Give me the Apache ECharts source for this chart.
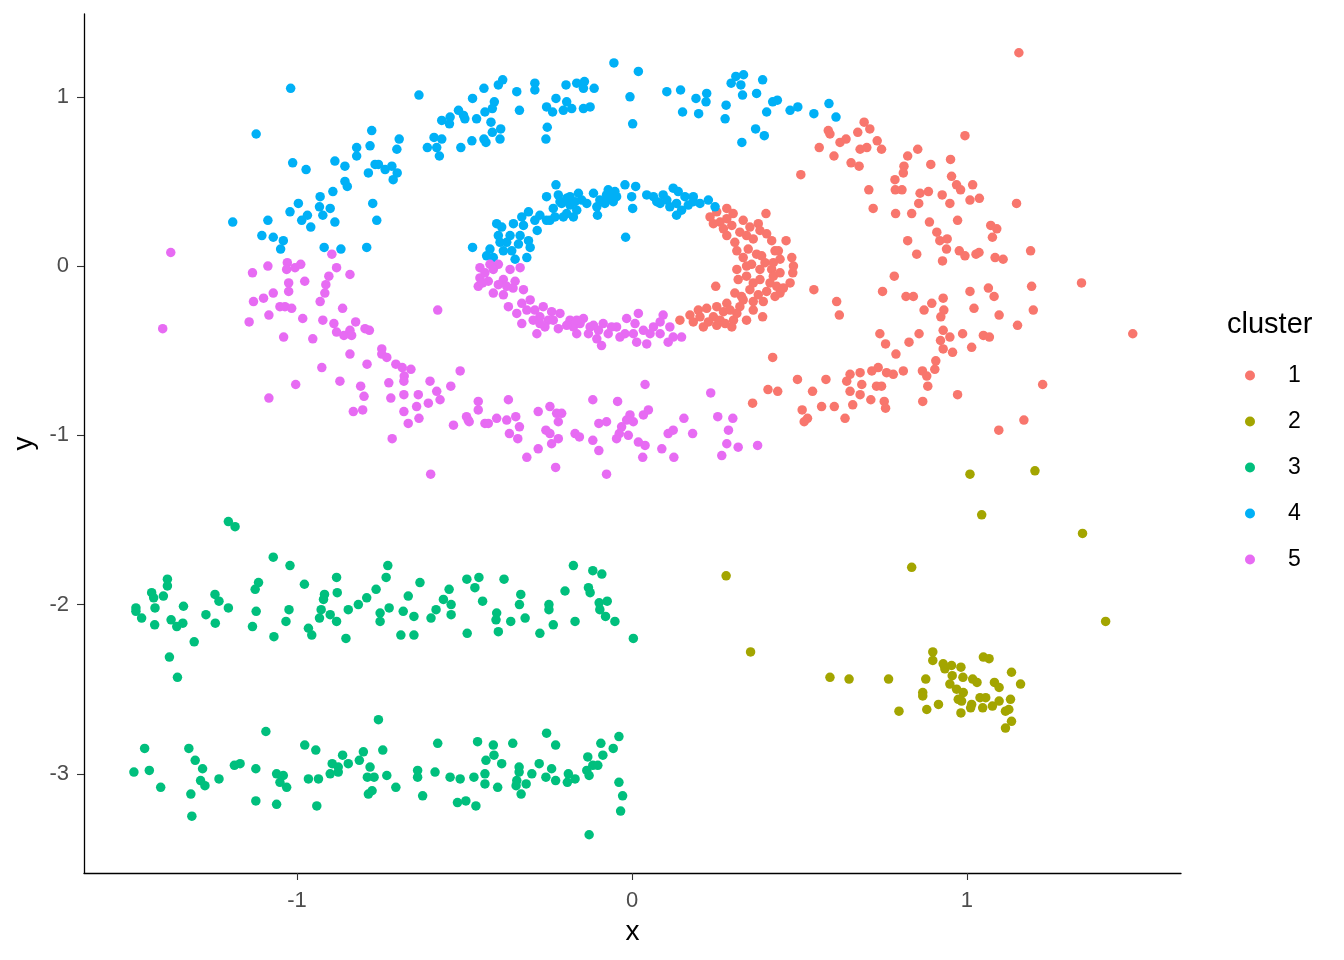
<!DOCTYPE html>
<html><head><meta charset="utf-8">
<script src="https://cdn.jsdelivr.net/npm/echarts@6/dist/echarts.min.js"></script>
<style>html,body{margin:0;padding:0;background:#fff}#c{width:1344px;height:960px}</style>
</head><body><div id="c"></div>
<script>
const clusterNames = ['1','2','3','4','5'];
const clusterColors = ['#F8766D','#A3A500','#00BF7D','#00B0F6','#E76BF3'];
const xTicks = [-1, 0, 1];
const yTicks = [-3, -2, -1, 0, 1];

const cluster1 = [
[0.233,0.29],[0.253,0.32],[0.283,0.34],[0.263,0.26],[0.283,0.28],[0.400,0.31],[0.332,0.27],[0.352,0.23],[0.322,0.20],[0.283,0.18],
[0.307,0.14],[0.377,0.25],[0.402,0.19],[0.417,0.15],[0.460,0.15],[0.362,0.16],[0.347,0.10],[0.372,0.07],[0.427,0.09],[0.442,0.04],
[0.477,0.05],[0.332,0.05],[0.357,0.01],[0.397,0.02],[0.417,-0.02],[0.480,-0.04],[0.313,-0.02],[0.342,-0.06],[0.382,-0.08],[0.412,-0.10],
[0.472,-0.10],[0.250,-0.12],[0.307,-0.16],[0.352,-0.14],[0.402,-0.15],[0.442,-0.16],[0.332,-0.20],[0.362,-0.21],[0.283,-0.22],[0.253,-0.24],
[0.223,-0.25],[0.198,-0.26],[0.173,-0.29],[0.143,-0.32],[0.183,-0.33],[0.213,-0.36],[0.243,-0.30],[0.273,-0.27],[0.303,-0.32],[0.293,-0.26],
[0.342,-0.32],[0.390,-0.30],[0.253,-0.35],[0.322,-0.24],[0.392,-0.21],[0.422,-0.06],[0.482,0.00],
[0.382,0.21],[0.313,0.09],[0.382,-0.02],[0.362,-0.10],[0.442,-0.04],[0.422,0.02],[0.263,-0.32],[0.313,-0.28],[0.362,-0.26],[0.432,-0.12],
[0.302,0.31],[0.342,0.18],[0.203,-0.30],[0.228,-0.33],
[0.243,0.25],[0.273,0.22],[0.298,0.24],[0.342,0.00],[0.317,-0.08],[0.387,0.06],[0.437,0.09],[0.298,-0.36],[0.278,-0.34],[0.327,-0.18],
[0.377,-0.17],[0.427,-0.18],[0.452,-0.13],
[1.155,1.26],[0.693,0.85],[0.710,0.81],[0.586,0.80],[0.591,0.78],[0.621,0.73],[0.639,0.75],[0.674,0.79],[0.559,0.70],[0.603,0.65],
[0.681,0.69],[0.701,0.70],[0.732,0.74],[0.745,0.69],[0.654,0.61],[0.678,0.59],[0.504,0.54],[0.994,0.77],[0.853,0.69],[0.823,0.65],
[0.892,0.60],[0.951,0.63],[0.812,0.59],[0.810,0.55],[0.785,0.51],[0.954,0.53],[0.969,0.48],[0.981,0.45],[1.017,0.48],[0.707,0.45],
[0.786,0.45],[0.806,0.45],[0.860,0.43],[0.885,0.44],[0.926,0.42],[1.009,0.39],[1.037,0.40],[0.856,0.37],[0.949,0.37],[1.148,0.37],
[0.720,0.34],[0.787,0.31],[0.835,0.31],[0.888,0.26],[0.972,0.27],[1.071,0.24],[1.089,0.22],[1.076,0.17],[0.910,0.20],[0.919,0.15],
[0.941,0.16],[0.823,0.15],[0.939,0.10],[0.850,0.07],[0.977,0.09],[0.994,0.06],[1.027,0.07],[1.036,0.08],[0.927,0.03],[1.084,0.05],
[1.108,0.04],[1.190,0.09],[0.543,-0.14],[0.611,-0.21],[0.619,-0.29],[0.783,-0.06],[0.748,-0.15],[0.818,-0.18],[0.840,-0.18],[0.895,-0.22],
[0.872,-0.26],[0.929,-0.19],[0.931,-0.26],[0.922,-0.30],[1.009,-0.15],[1.064,-0.13],[1.081,-0.18],[1.021,-0.25],[1.096,-0.29],[1.193,-0.12],
[1.198,-0.26],[1.342,-0.10],[1.151,-0.35],[1.495,-0.40],[0.740,-0.40],[0.757,-0.46],[0.788,-0.52],[0.827,-0.45],[0.857,-0.40],[0.929,-0.38],
[0.949,-0.42],[0.921,-0.44],[0.929,-0.49],[0.957,-0.51],[0.987,-0.40],[1.014,-0.48],[1.049,-0.41],[1.067,-0.42],[0.907,-0.56],[0.904,-0.61],
[0.867,-0.62],[0.880,-0.65],[0.883,-0.71],[0.868,-0.80],[0.972,-0.76],[1.226,-0.70],[1.170,-0.91],[1.095,-0.97],[0.810,-0.62],[0.780,-0.64],
[0.760,-0.63],[0.735,-0.60],[0.716,-0.62],[0.681,-0.63],[0.651,-0.64],[0.641,-0.68],[0.686,-0.70],[0.730,-0.71],[0.745,-0.71],[0.651,-0.74],
[0.681,-0.76],[0.713,-0.79],[0.753,-0.80],[0.757,-0.84],[0.659,-0.82],[0.604,-0.83],[0.566,-0.83],[0.579,-0.67],[0.636,-0.90],[0.508,-0.85],
[0.524,-0.90],[0.514,-0.92],[0.539,-0.74],[0.494,-0.67],[0.435,-0.74],[0.406,-0.73],[0.420,-0.54],[0.360,-0.81]
];

const cluster2 = [
[1.009,-1.23],[1.203,-1.21],[1.044,-1.47],[1.345,-1.58],[0.835,-1.78],[0.281,-1.83],[1.414,-2.10],[0.354,-2.28],[0.591,-2.43],[0.648,-2.44],
[0.766,-2.44],[0.797,-2.63],[0.877,-2.44],[0.898,-2.28],[0.898,-2.33],[0.868,-2.52],[0.868,-2.54],[0.880,-2.62],[0.915,-2.59],[0.929,-2.35],
[0.934,-2.38],[0.954,-2.36],[0.982,-2.37],[0.956,-2.42],[0.988,-2.43],[0.949,-2.47],[0.969,-2.50],[0.989,-2.52],[0.974,-2.56],[0.984,-2.57],
[0.982,-2.64],[1.017,-2.44],[1.030,-2.46],[1.014,-2.59],[1.011,-2.61],[1.039,-2.55],[1.056,-2.55],[1.047,-2.61],[1.049,-2.31],[1.066,-2.32],
[1.082,-2.46],[1.096,-2.49],[1.076,-2.60],[1.096,-2.57],[1.115,-2.63],[1.125,-2.62],[1.133,-2.40],[1.160,-2.47],[1.130,-2.56],[1.133,-2.69],
[1.115,-2.73]
];

const cluster3 = [
[-1.205,-1.51],[-1.185,-1.54],[-1.071,-1.72],[-1.021,-1.77],[-1.387,-1.85],[-1.387,-1.89],[-1.434,-1.93],[-1.428,-1.96],[-1.399,-1.95],[-1.481,-2.02],
[-1.481,-2.04],[-1.464,-2.08],[-1.424,-2.02],[-1.339,-2.01],[-1.376,-2.09],[-1.359,-2.13],[-1.341,-2.11],[-1.425,-2.12],[-1.307,-2.22],[-1.381,-2.31],
[-1.357,-2.43],[-1.245,-1.94],[-1.233,-1.98],[-1.272,-2.06],[-1.205,-2.02],[-1.244,-2.11],[-1.115,-1.87],[-1.125,-1.91],[-1.122,-2.04],[-1.133,-2.13],
[-1.069,-2.19],[-0.978,-1.88],[-0.882,-1.84],[-0.880,-1.93],[-0.918,-1.94],[-0.921,-1.97],[-1.024,-2.03],[-1.033,-2.10],[-0.928,-2.03],[-0.933,-2.08],
[-0.901,-2.06],[-0.882,-2.10],[-0.966,-2.14],[-0.956,-2.18],[-0.854,-2.20],[-0.847,-2.03],[-0.817,-2.00],[-0.792,-1.96],[-0.764,-1.91],[-0.729,-1.77],
[-0.734,-1.84],[-0.725,-2.02],[-0.752,-2.05],[-0.752,-2.10],[-0.683,-2.04],[-0.651,-2.07],[-0.668,-1.95],[-0.633,-1.87],[-0.690,-2.18],[-0.651,-2.18],
[-0.600,-2.08],[-0.585,-2.03],[-0.563,-1.97],[-0.546,-1.91],[-0.540,-2.00],[-0.540,-2.06],[-0.493,-1.85],[-0.457,-1.84],[-0.469,-1.90],[-0.446,-1.98],
[-0.492,-2.17],[-0.404,-2.05],[-0.406,-2.09],[-0.399,-2.16],[-0.382,-1.85],[-0.362,-2.10],[-0.332,-1.94],[-0.336,-2.00],[-0.319,-2.08],[-0.275,-2.17],
[-0.248,-2.00],[-0.248,-2.03],[-0.235,-2.12],[-0.200,-1.92],[-0.175,-1.77],[-0.170,-2.10],[-0.117,-1.80],[-0.090,-1.82],[-0.130,-1.90],[-0.125,-1.93],
[-0.098,-1.99],[-0.074,-1.98],[-0.096,-2.03],[-0.079,-2.07],[-0.051,-2.10],[0.004,-2.20],
[-0.757,-2.68],[-1.093,-2.75],[-1.455,-2.85],[-1.323,-2.85],[-0.977,-2.83],[-0.944,-2.86],[-1.487,-2.99],[-1.441,-2.98],[-1.407,-3.08],[-1.304,-2.92],
[-1.282,-2.97],[-1.288,-3.04],[-1.275,-3.07],[-1.317,-3.12],[-1.314,-3.25],[-1.233,-3.03],[-1.187,-2.95],[-1.170,-2.94],[-1.123,-2.97],[-1.123,-3.16],
[-1.061,-3.00],[-1.041,-3.01],[-1.051,-3.05],[-1.031,-3.08],[-1.061,-3.18],[-0.966,-3.03],[-0.936,-3.03],[-0.941,-3.19],[-0.895,-2.94],[-0.877,-2.96],
[-0.901,-3.00],[-0.877,-2.99],[-0.864,-2.89],[-0.847,-2.94],[-0.814,-2.92],[-0.802,-2.87],[-0.782,-2.96],[-0.790,-3.02],[-0.770,-3.02],[-0.787,-3.12],
[-0.776,-3.10],[-0.744,-2.86],[-0.732,-3.01],[-0.705,-3.08],[-0.640,-2.98],[-0.640,-3.02],[-0.625,-3.13],[-0.588,-2.99],[-0.580,-2.82],[-0.543,-3.02],
[-0.513,-3.03],[-0.521,-3.17],[-0.496,-3.16],[-0.466,-3.19],[-0.472,-3.02],[-0.461,-2.81],[-0.439,-3.00],[-0.439,-3.06],[-0.436,-2.92],[-0.414,-2.83],
[-0.412,-2.89],[-0.389,-2.94],[-0.401,-3.08],[-0.356,-2.82],[-0.337,-2.96],[-0.337,-2.99],[-0.344,-3.04],[-0.346,-3.07],[-0.331,-3.12],[-0.316,-3.06],
[-0.299,-3.00],[-0.277,-2.94],[-0.257,-3.02],[-0.255,-2.76],[-0.228,-2.83],[-0.240,-2.97],[-0.228,-3.04],[-0.190,-3.00],[-0.193,-3.05],[-0.170,-3.03],
[-0.132,-2.90],[-0.135,-2.98],[-0.128,-3.01],[-0.117,-2.95],[-0.102,-2.95],[-0.087,-2.89],[-0.093,-2.82],[-0.056,-2.85],[-0.039,-2.78],[-0.039,-3.05],
[-0.028,-3.13],[-0.034,-3.22],[-0.128,-3.36]
];

const cluster4 = [
[-0.227,0.48],[-0.255,0.41],[-0.021,0.48],[0.011,0.47],[-0.001,0.41],[0.002,0.34],[-0.019,0.17],[-0.476,0.11],[-0.404,0.25],[-0.389,0.23],
[-0.354,0.25],[-0.329,0.29],[-0.309,0.32],[-0.275,0.30],[-0.283,0.21],[-0.309,0.15],[-0.304,0.11],[-0.314,0.05],[-0.349,0.04],[-0.359,0.09],
[-0.394,0.14],[-0.424,0.10],[-0.434,0.06],[-0.414,0.05],[-0.374,0.14],[-0.230,0.29],[-0.235,0.34],[-0.210,0.37],[-0.185,0.41],[-0.160,0.43],
[-0.195,0.31],[-0.165,0.33],[-0.135,0.37],[-0.115,0.43],[-0.105,0.35],[-0.103,0.30],[-0.076,0.42],[-0.051,0.44],[-0.056,0.38],[-0.081,0.37],
[0.044,0.42],[0.064,0.41],[0.084,0.37],[0.093,0.42],[0.123,0.46],[0.138,0.44],[0.158,0.41],[0.183,0.38],[0.203,0.37],[0.133,0.37],
[0.113,0.35],[0.133,0.30],[0.148,0.33],[0.228,0.39],[0.248,0.35],[-0.220,0.42],[-0.175,0.29],[-0.245,0.27],[-0.334,0.18],[-0.364,0.18],
[-0.215,0.38],[-0.150,0.39],[-0.071,0.45],[-0.046,0.41],[0.074,0.38],[0.168,0.36],[-0.185,0.36],[-0.255,0.27],[-0.384,0.09],[-0.339,0.13],
[-0.290,0.27],[-0.205,0.29],
[-0.195,0.40],[-0.170,0.38],[-0.096,0.39],[-0.066,0.40],[0.104,0.39],[0.183,0.41],[-0.324,0.24],[-0.399,0.18],
[-0.054,1.20],[0.019,1.15],[-1.019,1.05],[-0.636,1.01],[-1.122,0.78],[-0.386,1.10],[-0.399,1.07],[-0.442,1.05],[-0.344,1.03],[-0.290,1.08],
[-0.290,1.04],[-0.197,1.07],[-0.165,1.08],[-0.142,1.09],[-0.113,1.05],[-0.145,1.05],[-0.006,1.00],[0.002,0.84],[-0.476,0.99],[-0.411,0.97],
[-0.417,0.93],[-0.439,0.91],[-0.518,0.92],[-0.503,0.89],[-0.499,0.87],[-0.543,0.88],[-0.568,0.86],[-0.545,0.84],[-0.464,0.87],[-0.421,0.85],
[-0.392,0.81],[-0.417,0.79],[-0.394,0.75],[-0.336,0.92],[-0.255,0.94],[-0.237,0.91],[-0.227,0.99],[-0.205,0.92],[-0.195,0.97],[-0.180,0.93],
[-0.145,0.93],[-0.125,0.94],[-0.253,0.82],[-0.257,0.75],[-0.591,0.76],[-0.568,0.75],[-0.611,0.70],[-0.583,0.70],[-0.575,0.65],[-0.511,0.70],
[-0.478,0.74],[-0.442,0.75],[-0.436,0.73],[-0.777,0.80],[-0.782,0.71],[-0.695,0.75],[-0.702,0.69],[-0.822,0.70],[-0.822,0.65],[-0.887,0.62],
[-0.857,0.59],[-1.013,0.61],[-0.973,0.57],[-0.787,0.55],[-0.767,0.60],[-0.757,0.60],[-0.737,0.57],[-0.717,0.59],[-0.701,0.55],[-0.713,0.51],
[-0.857,0.50],[-0.850,0.47],[-0.893,0.44],[-0.931,0.41],[-0.933,0.35],[-0.901,0.34],[-0.923,0.30],[-0.887,0.26],[-0.996,0.37],[-1.021,0.32],
[-0.969,0.30],[-0.986,0.27],[-0.959,0.23],[-1.087,0.27],[-1.192,0.26],[-1.105,0.18],[-1.071,0.17],[-1.041,0.15],[-1.049,0.10],[-0.919,0.11],
[-0.869,0.10],[-0.792,0.11],[-0.774,0.37],[-0.762,0.27],
[0.104,1.03],[0.145,1.04],[0.151,0.91],[0.191,0.99],[0.223,1.02],[0.221,0.97],[0.199,0.90],[0.281,0.95],[0.278,0.87],[0.296,1.08],
[0.310,1.12],[0.333,1.13],[0.325,1.07],[0.330,1.01],[0.390,1.10],[0.372,1.02],[0.402,0.91],[0.420,0.97],[0.434,0.98],[0.369,0.81],
[0.395,0.77],[0.328,0.73],[0.472,0.92],[0.495,0.94],[0.543,0.90],[0.588,0.96],[0.609,0.88]
];

const cluster5 = [
[-0.454,-0.01],[-0.424,0.01],[-0.399,0.01],[-0.454,-0.07],[-0.459,-0.12],[-0.414,-0.16],[-0.429,-0.09],[-0.384,-0.08],[-0.364,-0.02],[-0.334,-0.01],
[-0.349,-0.09],[-0.384,-0.17],[-0.355,-0.13],[-0.324,-0.14],[-0.369,-0.24],[-0.344,-0.28],[-0.329,-0.34],[-0.304,-0.20],[-0.290,-0.26],[-0.265,-0.24],
[-0.275,-0.30],[-0.250,-0.32],[-0.284,-0.40],[-0.240,-0.27],[-0.215,-0.28],[-0.220,-0.37],[-0.185,-0.32],[-0.175,-0.36],[-0.145,-0.31],[-0.130,-0.40],
[-0.115,-0.35],[-0.086,-0.34],[-0.091,-0.47],[-0.105,-0.43],[-0.071,-0.40],[-0.046,-0.36],[-0.016,-0.31],[-0.021,-0.40],[0.019,-0.28],[0.009,-0.34],
[0.014,-0.45],[0.054,-0.40],[0.064,-0.36],[0.093,-0.29],[0.113,-0.36],[0.108,-0.45],[0.148,-0.42],[0.044,-0.46],[-0.165,-0.40],[-0.414,-0.02],
[-0.439,-0.04],[-0.399,-0.11],[-0.314,-0.26],[-0.260,-0.36],[-0.195,-0.35],[-0.155,-0.34],[-0.100,-0.38],[-0.036,-0.42],[0.034,-0.38],[0.084,-0.40],
[0.123,-0.42],[-0.295,-0.32],
[-0.446,-0.10],[-0.374,-0.12],[-0.329,-0.22],[-0.275,-0.34],[-0.235,-0.32],[-0.165,-0.32],[-0.125,-0.36],[-0.061,-0.36],[0.004,-0.40],[0.084,-0.33],
[-1.377,0.08],[-1.401,-0.37],[-1.133,-0.04],[-1.087,0.00],[-1.029,0.02],[-1.031,-0.02],[-1.006,-0.01],[-0.989,0.01],[-1.025,-0.10],[-1.025,-0.15],
[-0.977,-0.09],[-1.071,-0.16],[-1.130,-0.21],[-1.100,-0.19],[-1.051,-0.24],[-1.036,-0.24],[-1.016,-0.25],[-1.084,-0.29],[-1.143,-0.33],[-0.983,-0.31],
[-1.040,-0.42],[-0.953,-0.43],[-0.896,0.07],[-0.882,-0.01],[-0.905,-0.06],[-0.842,-0.05],[-0.914,-0.11],[-0.917,-0.16],[-0.931,-0.21],[-0.864,-0.25],
[-0.923,-0.32],[-0.890,-0.34],[-0.825,-0.33],[-0.882,-0.39],[-0.860,-0.41],[-0.842,-0.38],[-0.837,-0.41],[-0.797,-0.37],[-0.784,-0.38],[-0.580,-0.26],
[-0.842,-0.52],[-0.791,-0.58],[-0.926,-0.60],[-0.747,-0.49],[-0.747,-0.52],[-0.732,-0.54],[-0.705,-0.58],[-0.686,-0.60],[-0.660,-0.61],[-0.680,-0.65],
[-0.681,-0.68],[-0.872,-0.68],[-1.004,-0.70],[-1.084,-0.78],[-0.810,-0.71],[-0.800,-0.77],[-0.832,-0.86],[-0.804,-0.85],[-0.726,-0.69],[-0.720,-0.78],
[-0.681,-0.76],[-0.638,-0.76],[-0.643,-0.83],[-0.681,-0.86],[-0.668,-0.93],[-0.636,-0.90],[-0.608,-0.81],[-0.603,-0.68],[-0.583,-0.74],[-0.573,-0.79],
[-0.541,-0.71],[-0.513,-0.62],[-0.533,-0.94],[-0.489,-0.91],[-0.716,-1.02],[-0.601,-1.23],
[-0.459,-0.80],[-0.459,-0.85],[-0.369,-0.79],[-0.494,-0.89],[-0.486,-0.92],[-0.439,-0.93],[-0.429,-0.93],[-0.404,-0.90],[-0.374,-0.91],[-0.347,-0.89],
[-0.336,-0.95],[-0.366,-0.99],[-0.341,-1.02],[-0.314,-1.13],[-0.280,-0.86],[-0.245,-0.83],[-0.225,-0.87],[-0.210,-0.87],[-0.220,-0.92],[-0.257,-0.97],
[-0.245,-0.99],[-0.220,-1.02],[-0.240,-1.05],[-0.280,-1.08],[-0.228,-1.19],[-0.170,-0.99],[-0.157,-1.01],[-0.117,-0.79],[-0.117,-1.03],[-0.099,-0.93],
[-0.076,-0.92],[-0.099,-1.09],[-0.043,-0.80],[-0.006,-0.88],[-0.016,-0.91],[-0.031,-0.95],[-0.038,-0.99],[-0.046,-1.02],[-0.011,-1.00],[0.004,-0.92],
[-0.076,-1.23],[0.039,-0.70],[0.034,-0.88],[0.049,-0.85],[0.019,-1.04],[0.039,-1.06],[0.032,-1.13],[0.089,-1.08],[0.108,-0.99],[0.123,-0.97],
[0.155,-0.90],[0.181,-0.99],[0.125,-1.13],[0.235,-0.75],[0.256,-0.89],[0.301,-0.90],[0.288,-0.97],[0.283,-1.05],[0.317,-1.07],[0.268,-1.12],
[0.375,-1.06]
];

const clusters = [cluster1, cluster2, cluster3, cluster4, cluster5];
const FONT = '"Liberation Sans", Arial, sans-serif';

const chart = echarts.init(document.getElementById('c'), null, {renderer: 'canvas'});
chart.setOption({
  animation: false,
  backgroundColor: '#ffffff',
  textStyle: {fontFamily: FONT},
  grid: {left: 84, right: 163, top: 14, bottom: 87, containLabel: false},
  title: {
    text: 'cluster', left: 1222, top: 305,
    textStyle: {fontFamily: FONT, fontSize: 29, fontWeight: 'normal', color: '#000'}
  },
  legend: {
    orient: 'vertical', left: 1240, top: 359,
    icon: 'circle', itemWidth: 10, itemHeight: 10, itemGap: 23,
    data: clusterNames,
    textStyle: {fontFamily: FONT, fontSize: 23, color: '#000', lineHeight: 23, padding: [0, 0, 0, 28]}
  },
  xAxis: {
    type: 'value', min: -1.636, max: 1.639,
    name: 'x', nameLocation: 'middle', nameGap: 45,
    nameTextStyle: {fontFamily: FONT, fontSize: 28, color: '#000'},
    axisLine: {onZero: false, lineStyle: {color: '#000', width: 1.3}},
    axisTick: {show: true, length: 7, lineStyle: {color: '#333', width: 1.1}, customValues: xTicks},
    axisLabel: {fontFamily: FONT, fontSize: 22, color: '#4D4D4D', margin: 17, customValues: xTicks},
    splitLine: {show: false}
  },
  yAxis: {
    type: 'value', min: -3.586, max: 1.489,
    name: 'y', nameLocation: 'middle', nameGap: 37, nameRotate: 90,
    nameTextStyle: {fontFamily: FONT, fontSize: 28, color: '#000'},
    axisLine: {onZero: false, lineStyle: {color: '#000', width: 1.3}},
    axisTick: {show: true, length: 7, lineStyle: {color: '#333', width: 1.1}, customValues: yTicks},
    axisLabel: {fontFamily: FONT, fontSize: 22, color: '#4D4D4D', margin: 15, customValues: yTicks},
    splitLine: {show: false}
  },
  series: clusters.map((d, i) => ({
    name: clusterNames[i], type: 'scatter', data: d,
    symbol: 'circle', symbolSize: 9.5,
    itemStyle: {color: clusterColors[i], opacity: 1},
    emphasis: {disabled: true}
  }))
});
</script></body></html>
